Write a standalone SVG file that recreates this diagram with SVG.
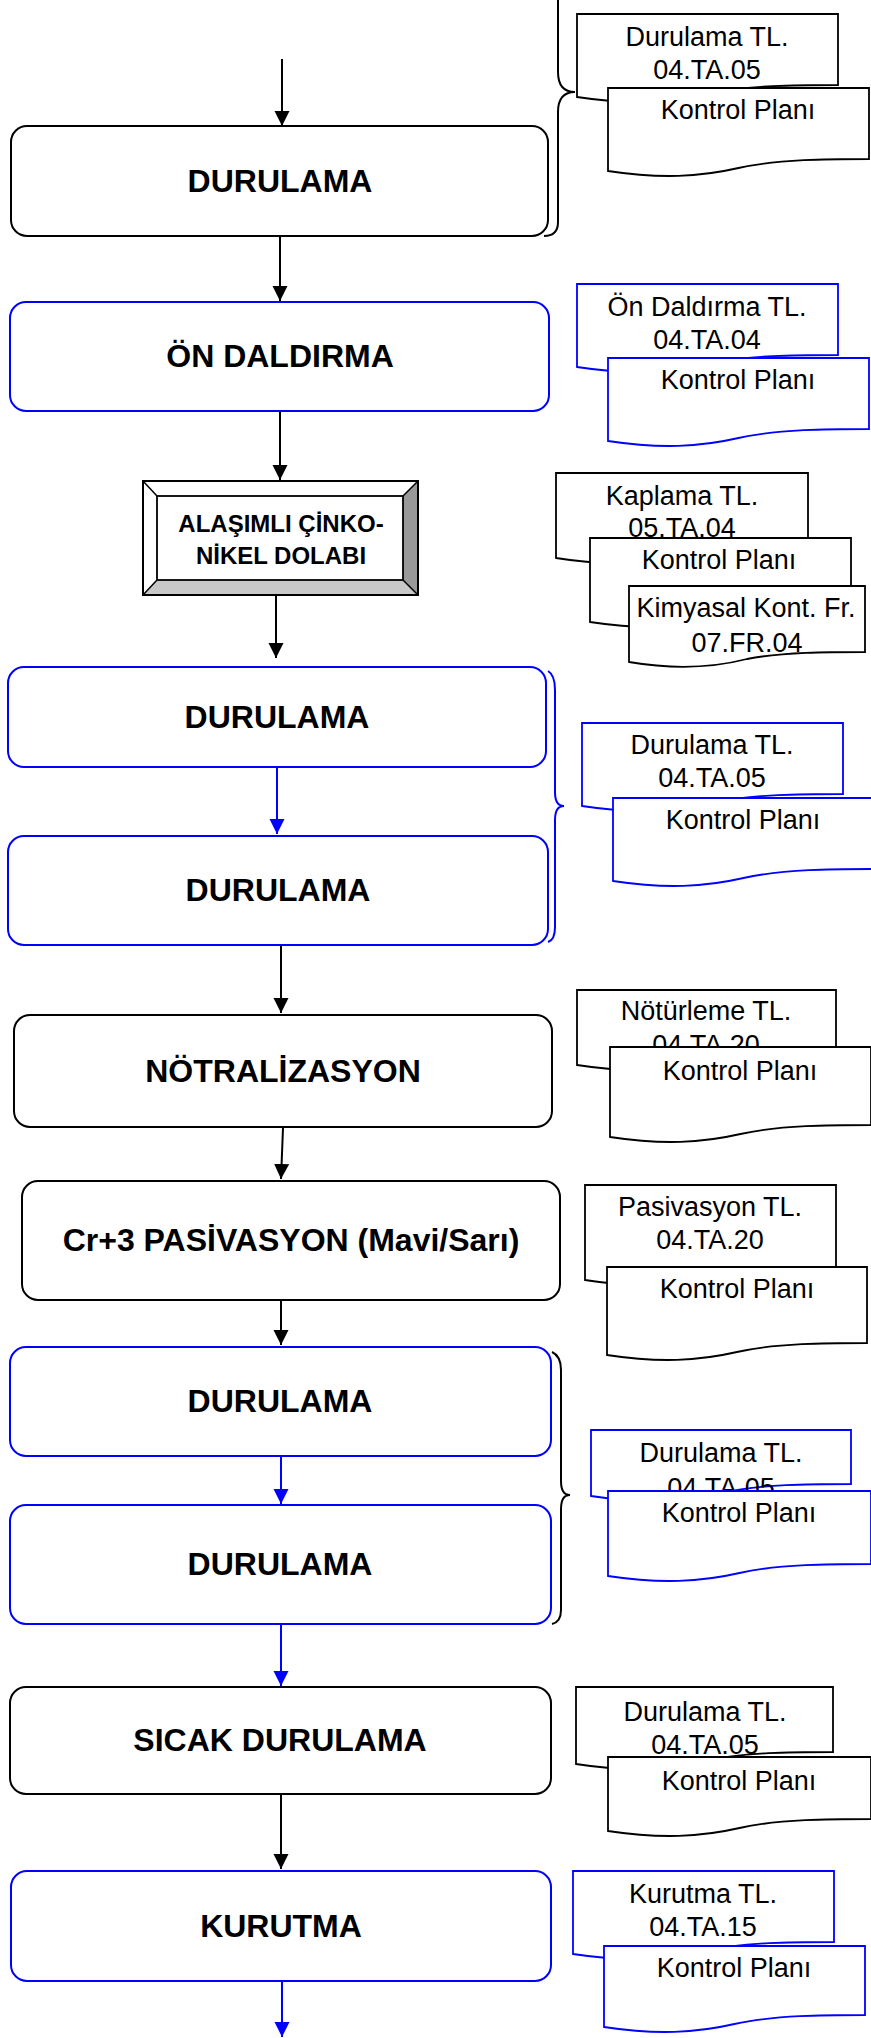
<svg xmlns="http://www.w3.org/2000/svg" width="871" height="2038" viewBox="0 0 871 2038">
<style>
.bk{fill:#fff;stroke:#000;stroke-width:2}
.bl{fill:#fff;stroke:#0000ff;stroke-width:2}
.dk{fill:#fff;stroke:#000;stroke-width:1.8}
.db{fill:#fff;stroke:#0000ff;stroke-width:1.8}
.lbl{font-family:"Liberation Sans",Arial,sans-serif;font-weight:bold;font-size:32px;text-anchor:middle;fill:#000}
.t{font-family:"Liberation Sans",Arial,sans-serif;font-size:27px;text-anchor:middle;fill:#000}
.ck{fill:none;stroke:#000;stroke-width:2}
.cb{fill:none;stroke:#0000ff;stroke-width:2}
.brk{fill:none;stroke:#000;stroke-width:2}
.brb{fill:none;stroke:#0000ff;stroke-width:2}
</style>
<defs>
<marker id="ak" markerUnits="userSpaceOnUse" markerWidth="16" markerHeight="16" refX="15" refY="7.5" orient="auto" viewBox="0 0 16 16"><path d="M0,0 L15,7.5 L0,15 z" fill="#000"/></marker>
<marker id="ab" markerUnits="userSpaceOnUse" markerWidth="16" markerHeight="16" refX="15" refY="7.5" orient="auto" viewBox="0 0 16 16"><path d="M0,0 L15,7.5 L0,15 z" fill="#0000ff"/></marker>
</defs>

<g id="connectors">
<line class="ck" x1="282" y1="59" x2="282" y2="126" marker-end="url(#ak)"/>
<line class="ck" x1="280" y1="236" x2="280" y2="301" marker-end="url(#ak)"/>
<line class="ck" x1="280" y1="412" x2="280" y2="480" marker-end="url(#ak)"/>
<line class="ck" x1="276" y1="596" x2="276" y2="658" marker-end="url(#ak)"/>
<line class="cb" x1="277" y1="768" x2="277" y2="834" marker-end="url(#ab)"/>
<line class="ck" x1="281" y1="946" x2="281" y2="1013" marker-end="url(#ak)"/>
<line class="ck" x1="283" y1="1128" x2="281" y2="1179" marker-end="url(#ak)"/>
<line class="ck" x1="281" y1="1301" x2="281" y2="1345" marker-end="url(#ak)"/>
<line class="cb" x1="281" y1="1457" x2="281" y2="1504" marker-end="url(#ab)"/>
<line class="cb" x1="281" y1="1625" x2="281" y2="1686" marker-end="url(#ab)"/>
<line class="ck" x1="281" y1="1795" x2="281" y2="1869" marker-end="url(#ak)"/>
<line class="cb" x1="282" y1="1982" x2="282" y2="2037" marker-end="url(#ab)"/>
</g>

<g id="brace1"><path class="brk" d="M558,0 V72 Q558,92 575,92 Q558,92 558,112 V222 Q558,236 544,236"/></g>
<g id="brace2"><path class="brb" d="M548,671 Q555,675 555,690 V792 Q555,806 564,806 Q555,806 555,820 V927 Q555,940 548,942"/></g>
<g id="brace3"><path class="brk" d="M552,1352 Q561,1356 561,1370 V1481 Q561,1495 570,1495 Q561,1495 561,1509 V1610 Q561,1622 552,1624"/></g>

<g id="n1"><rect class="bk" x="11" y="126" width="537" height="110" rx="16"/><text class="lbl" x="280" y="192">DURULAMA</text></g>
<g id="n2"><rect class="bl" x="10" y="302" width="539" height="109" rx="16"/><text class="lbl" x="280" y="367">ÖN DALDIRMA</text></g>
<g id="n3">
<rect x="143" y="481" width="275" height="114" fill="#fff" stroke="#000" stroke-width="2"/>
<polygon points="418,481 418,595 403,580 403,496" fill="#999"/>
<polygon points="143,595 418,595 403,580 157,580" fill="#c8c8c8"/>
<rect x="157" y="496" width="246" height="84" fill="#fff" stroke="#000" stroke-width="1.8"/>
<path d="M143,481 L157,496 M418,481 L403,496 M143,595 L157,580 M418,595 L403,580" stroke="#000" stroke-width="1.5"/>
<rect x="143" y="481" width="275" height="114" fill="none" stroke="#000" stroke-width="2"/>
<text class="lbl" style="font-size:24px" x="281" y="532">ALAŞIMLI ÇİNKO-</text>
<text class="lbl" style="font-size:24px" x="281" y="564">NİKEL DOLABI</text>
</g>
<g id="n4"><rect class="bl" x="8" y="667" width="538" height="100" rx="16"/><text class="lbl" x="277" y="728">DURULAMA</text></g>
<g id="n5"><rect class="bl" x="8" y="836" width="540" height="109" rx="16"/><text class="lbl" x="278" y="901">DURULAMA</text></g>
<g id="n6"><rect class="bk" x="14" y="1015" width="538" height="112" rx="16"/><text class="lbl" x="283" y="1082">NÖTRALİZASYON</text></g>
<g id="n7"><rect class="bk" x="22" y="1181" width="538" height="119" rx="16"/><text class="lbl" x="291" y="1251">Cr+3 PASİVASYON (Mavi/Sarı)</text></g>
<g id="n8"><rect class="bl" x="10" y="1347" width="541" height="109" rx="16"/><text class="lbl" x="280" y="1412">DURULAMA</text></g>
<g id="n9"><rect class="bl" x="10" y="1505" width="541" height="119" rx="16"/><text class="lbl" x="280" y="1575">DURULAMA</text></g>
<g id="n10"><rect class="bk" x="10" y="1687" width="541" height="107" rx="16"/><text class="lbl" x="280" y="1751">SICAK DURULAMA</text></g>
<g id="n11"><rect class="bl" x="11" y="1871" width="540" height="110" rx="16"/><text class="lbl" x="281" y="1937">KURUTMA</text></g>

<g id="d1">
<path class="dk" d="M577,14 h261 v71 c-39,0 -91,0 -130.5,9 c-39,9 -78,11 -130.5,3 z"/>
<text class="t" x="707" y="46">Durulama TL.</text><text class="t" x="707" y="79">04.TA.05</text>
<path class="dk" d="M608,88 h261 v71 c-39,0 -91,0 -130.5,9 c-39,9 -78,11 -130.5,3 z"/>
<text class="t" x="738" y="119">Kontrol Planı</text>
</g>
<g id="d2">
<path class="db" d="M577,284 h261 v71 c-39,0 -91,0 -130.5,9 c-39,9 -78,11 -130.5,3 z"/>
<text class="t" x="707" y="316">Ön Daldırma TL.</text><text class="t" x="707" y="349">04.TA.04</text>
<path class="db" d="M608,358 h261 v71 c-39,0 -91,0 -130.5,9 c-39,9 -78,11 -130.5,3 z"/>
<text class="t" x="738" y="389">Kontrol Planı</text>
</g>
<g id="d3">
<path class="dk" d="M556,473 h252 v73 c-38,0 -88,0 -126,9 c-38,9 -76,11 -126,3 z"/>
<text class="t" x="682" y="505">Kaplama TL.</text><text class="t" x="682" y="537">05.TA.04</text>
<path class="dk" d="M590,538 h261 v72 c-39,0 -91,0 -130.5,9 c-39,9 -78,11 -130.5,3 z"/>
<text class="t" x="719" y="569">Kontrol Planı</text>
<path class="dk" d="M629,586 h236 v66 c-35,0 -83,0 -118,7 c-35,9 -71,11 -118,3 z"/>
<text class="t" x="746" y="617">Kimyasal Kont. Fr.</text><text class="t" x="747" y="652">07.FR.04</text>
</g>
<g id="d4">
<path class="db" d="M582,723 h261 v71 c-39,0 -91,0 -130.5,9 c-39,9 -78,11 -130.5,3 z"/>
<text class="t" x="712" y="754">Durulama TL.</text><text class="t" x="712" y="787">04.TA.05</text>
<path class="db" d="M613,798 h261 v71 c-39,0 -91,0 -130.5,9 c-39,9 -78,11 -130.5,3 z"/>
<text class="t" x="743" y="829">Kontrol Planı</text>
</g>
<g id="d5">
<path class="dk" d="M577,990 h259 v63 c-39,0 -91,0 -129.5,9 c-39,9 -78,11 -129.5,3 z"/>
<text class="t" x="706" y="1020">Nötürleme TL.</text><text class="t" x="706" y="1054">04.TA.20</text>
<path class="dk" d="M610,1047 h261 v78 c-39,0 -91,0 -130.5,9 c-39,9 -78,11 -130.5,3 z"/>
<text class="t" x="740" y="1080">Kontrol Planı</text>
</g>
<g id="d6">
<path class="dk" d="M585,1185 h251 v83 c-38,0 -88,0 -125.5,9 c-38,9 -75,11 -125.5,3 z"/>
<text class="t" x="710" y="1216">Pasivasyon TL.</text><text class="t" x="710" y="1249">04.TA.20</text>
<path class="dk" d="M607,1267 h260 v76 c-39,0 -91,0 -130,9 c-39,9 -78,11 -130,3 z"/>
<text class="t" x="737" y="1298">Kontrol Planı</text>
</g>
<g id="d7">
<path class="db" d="M591,1430 h260 v54 c-39,0 -91,0 -130,9 c-39,9 -78,11 -130,3 z"/>
<text class="t" x="721" y="1462">Durulama TL.</text><text class="t" x="721" y="1497">04.TA.05</text>
<path class="db" d="M608,1491 h263 v73 c-39,0 -92,0 -131.5,9 c-39,9 -79,11 -131.5,3 z"/>
<text class="t" x="739" y="1522">Kontrol Planı</text>
</g>
<g id="d8">
<path class="dk" d="M576,1687 h257 v65 c-39,0 -90,0 -128.5,9 c-39,9 -77,11 -128.5,3 z"/>
<text class="t" x="705" y="1721">Durulama TL.</text><text class="t" x="705" y="1754">04.TA.05</text>
<path class="dk" d="M608,1757 h263 v62 c-39,0 -92,0 -131.5,9 c-39,9 -79,11 -131.5,3 z"/>
<text class="t" x="739" y="1790">Kontrol Planı</text>
</g>
<g id="d9">
<path class="db" d="M573,1871 h261 v71 c-39,0 -91,0 -130.5,9 c-39,9 -78,11 -130.5,3 z"/>
<text class="t" x="703" y="1903">Kurutma TL.</text><text class="t" x="703" y="1936">04.TA.15</text>
<path class="db" d="M604,1946 h261 v69 c-39,0 -91,0 -130.5,9 c-39,9 -78,11 -130.5,3 z"/>
<text class="t" x="734" y="1977">Kontrol Planı</text>
</g>
</svg>
